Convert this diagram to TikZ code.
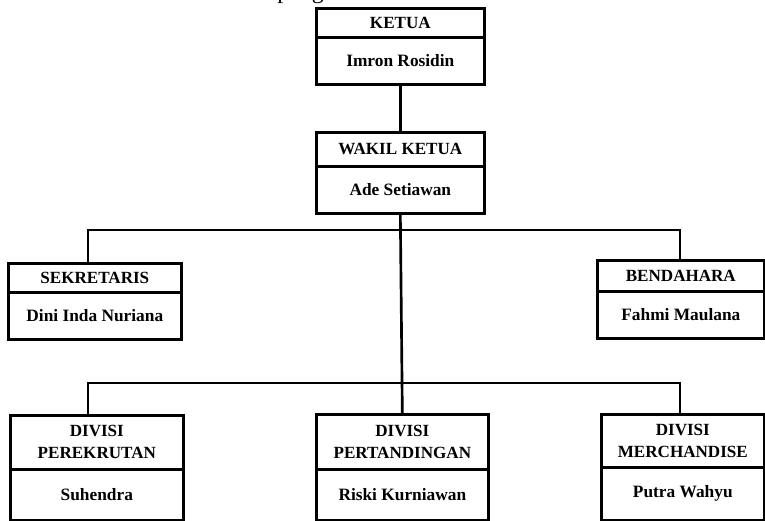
\documentclass[tikz,border=0pt]{standalone}
\usepackage{fontspec}
\setmainfont{Liberation Serif}
\begin{document}
\begin{tikzpicture}[x=0.75pt,y=-0.75pt,
  box/.style={draw, line width=2pt, inner sep=0pt, anchor=north west, align=center},
  ttl/.style={box, font=\bfseries\fontsize{12.8}{16.5}\selectfont},
  nam/.style={box, font=\bfseries\fontsize{13}{16}\selectfont},
  link/.style={line width=2pt}]
\clip (0,0) rectangle (765,521);
% clipped heading fragment at the very top
\node[anchor=base west, inner sep=0pt, font=\fontsize{18}{20}\selectfont] (head) at (277,-1.5) {pengurus};
% KETUA
\node[ttl, minimum width=126pt, minimum height=21.75pt] (ketT) at (315,7) {KETUA};
\node[nam, minimum width=126pt, minimum height=35.25pt] (ketN) at (315,36) {Imron Rosidin};
% WAKIL KETUA
\node[ttl, minimum width=126pt, minimum height=25.5pt] (wakT) at (315,131) {WAKIL KETUA};
\node[nam, minimum width=126pt, minimum height=35.25pt] (wakN) at (315,165) {Ade Setiawan};
% SEKRETARIS
\node[ttl, minimum width=129.75pt, minimum height=21.75pt] (sekT) at (7,262) {SEKRETARIS};
\node[nam, minimum width=129.75pt, minimum height=35.25pt] (sekN) at (7,291) {Dini Inda Nuriana};
% BENDAHARA
\node[ttl, minimum width=125.25pt, minimum height=23.25pt] (benT) at (596,259) {BENDAHARA};
\node[nam, minimum width=125.25pt, minimum height=35.25pt] (benN) at (596,290) {Fahmi Maulana};
% DIVISI PEREKRUTAN
\node[ttl, minimum width=129.75pt, minimum height=40.5pt] (rekT) at (9,414) {DIVISI\\PEREKRUTAN};
\node[nam, minimum width=129.75pt, minimum height=38.25pt] (rekN) at (9,468) {Suhendra};
% DIVISI PERTANDINGAN
\node[ttl, minimum width=129pt, minimum height=41.25pt] (tanT) at (315,413) {DIVISI\\PERTANDINGAN};
\node[nam, minimum width=129pt, minimum height=38.25pt] (tanN) at (315,468) {Riski Kurniawan};
% DIVISI MERCHANDISE
\node[ttl, minimum width=122.25pt, minimum height=39.75pt] (merT) at (600,413) {DIVISI\\MERCHANDISE};
\node[nam, minimum width=122.25pt, minimum height=39.75pt] (merN) at (600,466) {Putra Wahyu};
% connectors
\coordinate (b1l) at (88,230);
\coordinate (b1r) at (680,230);
\coordinate (b2l) at (88,383);
\coordinate (b2r) at (680,383);
\draw[link] (ketN.south) -- (wakT.north);
\draw[link] (wakN.south) -- (tanT.north);
\draw[link] (sekT.north -| b1l) -- (b1l) -- (b1r) -- (benT.north -| b1r);
\draw[link] (rekT.north -| b2l) -- (b2l) -- (b2r) -- (merT.north -| b2r);
\end{tikzpicture}
\end{document}
